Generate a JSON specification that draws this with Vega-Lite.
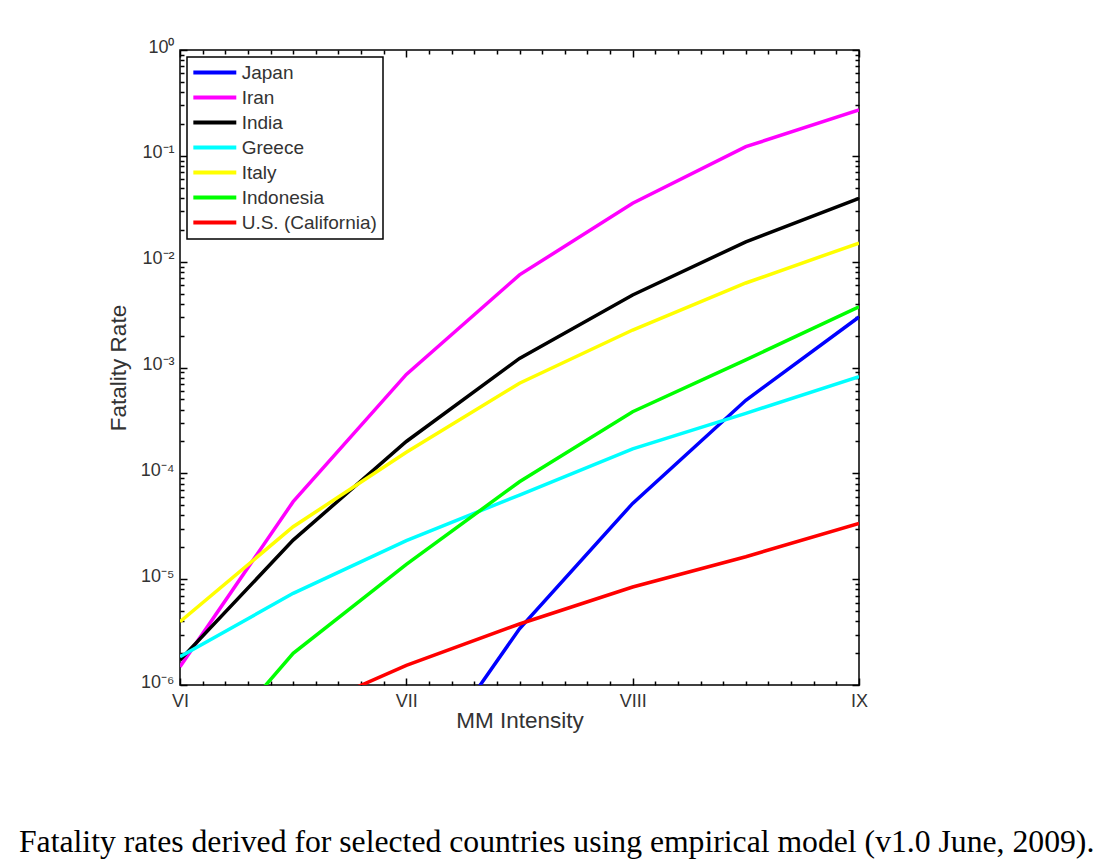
{
  "$schema": "https://vega.github.io/schema/vega-lite/v6.json",
  "autosize": {"type": "none"},
  "width": 679,
  "height": 635,
  "padding": {"left": 180, "top": 50, "right": 242, "bottom": 182},
  "background": "white",
  "config": {
    "view": {"stroke": "black", "strokeWidth": 1.5},
    "font": "Liberation Sans",
    "legend": {"strokeWidth": 1.5}
  },
  "title": {
    "text": "Fatality rates derived for selected countries using empirical model (v1.0 June, 2009).",
    "orient": "bottom",
    "anchor": "start",
    "frame": "group",
    "font": "Liberation Serif",
    "fontSize": 31.7,
    "fontWeight": "normal",
    "color": "black",
    "dx": -161,
    "offset": 95
  },
  "data": {
    "values": [
      {"country": "Japan", "mmi": 6, "rate": 3e-12},
      {"country": "Japan", "mmi": 6.5, "rate": 6e-10},
      {"country": "Japan", "mmi": 7, "rate": 1e-7},
      {"country": "Japan", "mmi": 7.5, "rate": 3.4e-6},
      {"country": "Japan", "mmi": 8, "rate": 5.2e-5},
      {"country": "Japan", "mmi": 8.5, "rate": 4.9e-4},
      {"country": "Japan", "mmi": 9, "rate": 3.0e-3},
      {"country": "Iran", "mmi": 6, "rate": 1.49e-6},
      {"country": "Iran", "mmi": 6.5, "rate": 5.4e-5},
      {"country": "Iran", "mmi": 7, "rate": 8.6e-4},
      {"country": "Iran", "mmi": 7.5, "rate": 7.5e-3},
      {"country": "Iran", "mmi": 8, "rate": 0.0356},
      {"country": "Iran", "mmi": 8.5, "rate": 0.122},
      {"country": "Iran", "mmi": 9, "rate": 0.271},
      {"country": "India", "mmi": 6, "rate": 1.72e-6},
      {"country": "India", "mmi": 6.5, "rate": 2.34e-5},
      {"country": "India", "mmi": 7, "rate": 2.0e-4},
      {"country": "India", "mmi": 7.5, "rate": 1.22e-3},
      {"country": "India", "mmi": 8, "rate": 4.84e-3},
      {"country": "India", "mmi": 8.5, "rate": 0.0154},
      {"country": "India", "mmi": 9, "rate": 0.0397},
      {"country": "Greece", "mmi": 6, "rate": 1.85e-6},
      {"country": "Greece", "mmi": 6.5, "rate": 7.35e-6},
      {"country": "Greece", "mmi": 7, "rate": 2.31e-5},
      {"country": "Greece", "mmi": 7.5, "rate": 6.24e-5},
      {"country": "Greece", "mmi": 8, "rate": 1.70e-4},
      {"country": "Greece", "mmi": 8.5, "rate": 3.69e-4},
      {"country": "Greece", "mmi": 9, "rate": 8.18e-4},
      {"country": "Italy", "mmi": 6, "rate": 3.96e-6},
      {"country": "Italy", "mmi": 6.5, "rate": 3.13e-5},
      {"country": "Italy", "mmi": 7, "rate": 1.58e-4},
      {"country": "Italy", "mmi": 7.5, "rate": 7.1e-4},
      {"country": "Italy", "mmi": 8, "rate": 2.26e-3},
      {"country": "Italy", "mmi": 8.5, "rate": 6.29e-3},
      {"country": "Italy", "mmi": 9, "rate": 0.0150},
      {"country": "Indonesia", "mmi": 6, "rate": 1.15e-7},
      {"country": "Indonesia", "mmi": 6.5, "rate": 1.99e-6},
      {"country": "Indonesia", "mmi": 7, "rate": 1.38e-5},
      {"country": "Indonesia", "mmi": 7.5, "rate": 8.33e-5},
      {"country": "Indonesia", "mmi": 8, "rate": 3.82e-4},
      {"country": "Indonesia", "mmi": 8.5, "rate": 1.18e-3},
      {"country": "Indonesia", "mmi": 9, "rate": 3.75e-3},
      {"country": "U.S. (California)", "mmi": 6, "rate": 1.5e-7},
      {"country": "U.S. (California)", "mmi": 6.5, "rate": 5.2e-7},
      {"country": "U.S. (California)", "mmi": 7, "rate": 1.53e-6},
      {"country": "U.S. (California)", "mmi": 7.5, "rate": 3.77e-6},
      {"country": "U.S. (California)", "mmi": 8, "rate": 8.43e-6},
      {"country": "U.S. (California)", "mmi": 8.5, "rate": 1.63e-5},
      {"country": "U.S. (California)", "mmi": 9, "rate": 3.37e-5}
    ]
  },
  "layer": [
    {
      "mark": {"type": "line", "clip": true, "strokeWidth": 3.5},
      "encoding": {
        "x": {
          "field": "mmi",
          "type": "quantitative",
          "scale": {"domain": [6, 9], "nice": false, "zero": false},
          "axis": {
            "orient": "bottom",
            "values": [6, 6.1, 6.2, 6.3, 6.4, 6.5, 6.6, 6.7, 6.8, 6.9, 7, 7.1, 7.2, 7.3, 7.4, 7.5, 7.6, 7.7, 7.8, 7.9, 8, 8.1, 8.2, 8.3, 8.4, 8.5, 8.6, 8.7, 8.8, 8.9, 9],
            "labelExpr": "datum.value == 6 ? 'VI' : datum.value == 7 ? 'VII' : datum.value == 8 ? 'VIII' : datum.value == 9 ? 'IX' : ''",
            "tickSize": {"condition": {"test": "datum.value % 1 == 0", "value": -7}, "value": -4},
            "tickColor": "black",
            "tickWidth": 1.5,
            "labelPadding": 14,
            "labelFontSize": 18,
            "labelColor": "#333333",
            "labelFlush": false,
            "labelOverlap": false,
            "domain": false,
            "grid": false,
            "title": "MM Intensity",
            "titleFontSize": 22.5,
            "titleFontWeight": "normal",
            "titleColor": "#333333",
            "titlePadding": -4
          }
        },
        "y": {
          "field": "rate",
          "type": "quantitative",
          "scale": {"type": "log", "domain": [1e-6, 1], "nice": false},
          "axis": {
            "orient": "left",
            "values": [1e-6, 2e-6, 3e-6, 4e-6, 5e-6, 6e-6, 7e-6, 8e-6, 9e-6, 1e-5, 2e-5, 3e-5, 4e-5, 5e-5, 6e-5, 7e-5, 8e-5, 9e-5, 1e-4, 2e-4, 3e-4, 4e-4, 5e-4, 6e-4, 7e-4, 8e-4, 9e-4, 1e-3, 2e-3, 3e-3, 4e-3, 5e-3, 6e-3, 7e-3, 8e-3, 9e-3, 0.01, 0.02, 0.03, 0.04, 0.05, 0.06, 0.07, 0.08, 0.09, 0.1, 0.2, 0.3, 0.4, 0.5, 0.6, 0.7, 0.8, 0.9, 1],
            "labelExpr": "abs(log(datum.value)/LN10 - round(log(datum.value)/LN10)) > 0.001 ? '' : ['10⁰','10⁻¹','10⁻²','10⁻³','10⁻⁴','10⁻⁵','10⁻⁶'][-round(log(datum.value)/LN10)]",
            "tickSize": {"condition": {"test": "abs(log(datum.value)/LN10 - round(log(datum.value)/LN10)) < 0.001", "value": -7}, "value": -4},
            "tickColor": "black",
            "tickWidth": 1.5,
            "labelPadding": 13,
            "labelOffset": -3,
            "labelFontSize": 18,
            "labelColor": "#333333",
            "labelFlush": false,
            "labelOverlap": false,
            "domain": false,
            "grid": false,
            "title": "Fatality Rate",
            "titleFontSize": 22.5,
            "titleFontWeight": "normal",
            "titleColor": "#333333",
            "titlePadding": 10
          }
        },
        "color": {
          "field": "country",
          "type": "nominal",
          "sort": null,
          "scale": {
            "domain": ["Japan", "Iran", "India", "Greece", "Italy", "Indonesia", "U.S. (California)"],
            "range": ["#0000ff", "#ff00ff", "#000000", "#00ffff", "#ffff00", "#00ff00", "#ff0000"]
          },
          "legend": {
            "orient": "top-left",
            "offset": 7,
            "title": null,
            "fillColor": "white",
            "strokeColor": "black",
            "padding": 6,
            "symbolType": "M-1,0H5",
            "symbolSize": 205,
            "symbolStrokeWidth": 4,
            "symbolFillColor": "transparent",
            "symbolOffset": -2,
            "labelFontSize": 19,
            "labelFont": "Liberation Sans",
            "labelColor": "#333333",
            "labelOffset": 31.7,
            "rowPadding": 5
          }
        }
      }
    },
    {
      "mark": {"type": "point", "clip": true, "opacity": 0},
      "encoding": {
        "x": {
          "field": "mmi",
          "type": "quantitative",
          "axis": {
            "orient": "top",
            "values": [6, 6.1, 6.2, 6.3, 6.4, 6.5, 6.6, 6.7, 6.8, 6.9, 7, 7.1, 7.2, 7.3, 7.4, 7.5, 7.6, 7.7, 7.8, 7.9, 8, 8.1, 8.2, 8.3, 8.4, 8.5, 8.6, 8.7, 8.8, 8.9, 9],
            "labels": false,
            "tickSize": {"condition": {"test": "datum.value % 1 == 0", "value": -7}, "value": -4},
            "tickColor": "black",
            "tickWidth": 1.5,
            "domain": false,
            "grid": false,
            "title": null
          }
        },
        "y": {
          "field": "rate",
          "type": "quantitative",
          "axis": {
            "orient": "right",
            "values": [1e-6, 2e-6, 3e-6, 4e-6, 5e-6, 6e-6, 7e-6, 8e-6, 9e-6, 1e-5, 2e-5, 3e-5, 4e-5, 5e-5, 6e-5, 7e-5, 8e-5, 9e-5, 1e-4, 2e-4, 3e-4, 4e-4, 5e-4, 6e-4, 7e-4, 8e-4, 9e-4, 1e-3, 2e-3, 3e-3, 4e-3, 5e-3, 6e-3, 7e-3, 8e-3, 9e-3, 0.01, 0.02, 0.03, 0.04, 0.05, 0.06, 0.07, 0.08, 0.09, 0.1, 0.2, 0.3, 0.4, 0.5, 0.6, 0.7, 0.8, 0.9, 1],
            "labels": false,
            "tickSize": {"condition": {"test": "abs(log(datum.value)/LN10 - round(log(datum.value)/LN10)) < 0.001", "value": -7}, "value": -4},
            "tickColor": "black",
            "tickWidth": 1.5,
            "domain": false,
            "grid": false,
            "title": null
          }
        }
      }
    }
  ]
}
